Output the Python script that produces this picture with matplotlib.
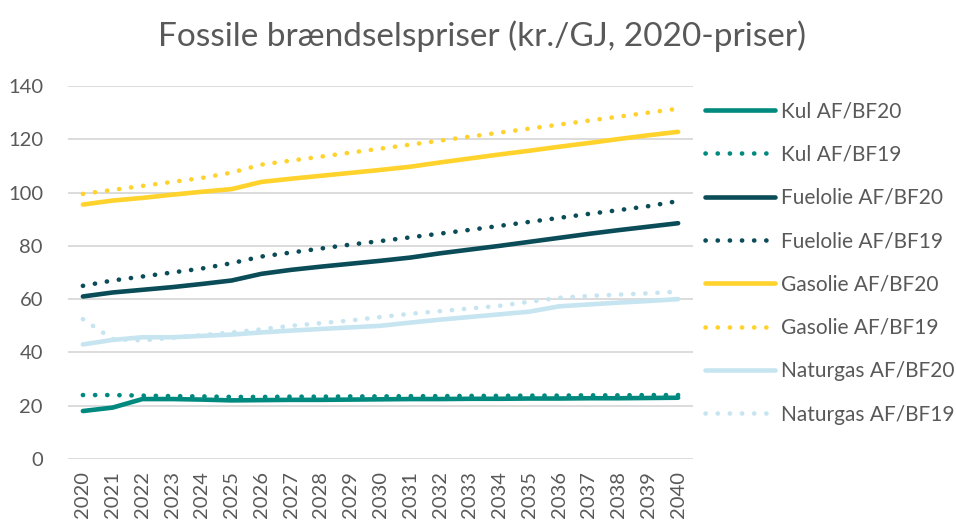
import matplotlib.pyplot as plt

# Fossile brændselspriser, kr./GJ (2020-priser)
years = list(range(2020, 2041))

kul_bf20 = [18.0, 19.3, 22.5, 22.5, 22.3, 22.0, 22.1, 22.2, 22.2, 22.3, 22.4, 22.5,
            22.5, 22.6, 22.6, 22.7, 22.7, 22.8, 22.8, 22.9, 23.0]
kul_bf19 = [24.0, 24.0, 23.8, 23.6, 23.5, 23.3, 23.3, 23.4, 23.4, 23.5, 23.5, 23.6,
            23.6, 23.7, 23.7, 23.8, 23.8, 23.9, 23.9, 24.0, 24.0]
fuel_bf20 = [61.0, 62.5, 63.5, 64.5, 65.7, 67.0, 69.5, 71.0, 72.2, 73.3, 74.4, 75.6,
             77.2, 78.6, 80.0, 81.5, 83.0, 84.5, 85.9, 87.2, 88.5]
fuel_bf19 = [65.0, 67.0, 68.5, 70.0, 71.5, 73.5, 76.0, 77.5, 79.0, 80.5, 81.8, 83.2,
             84.6, 86.0, 87.5, 89.0, 90.5, 92.0, 93.4, 94.9, 96.8]
gas_bf20 = [95.5, 97.0, 98.0, 99.2, 100.3, 101.3, 104.0, 105.2, 106.3, 107.4, 108.5, 109.7,
            111.3, 112.8, 114.3, 115.7, 117.2, 118.6, 120.1, 121.5, 122.8]
gas_bf19 = [99.5, 101.0, 102.5, 104.0, 105.5, 107.5, 110.5, 112.0, 113.5, 115.0, 116.5, 118.0,
            119.5, 121.0, 122.5, 124.0, 125.5, 127.0, 128.5, 130.0, 131.5]
ng_bf20 = [43.0, 44.7, 45.7, 45.7, 46.2, 46.7, 47.5, 48.2, 48.8, 49.4, 50.0, 51.2,
           52.3, 53.3, 54.3, 55.3, 57.3, 58.0, 58.7, 59.3, 60.0]
ng_bf19 = [52.5, 45.0, 44.5, 45.5, 46.5, 47.5, 48.7, 50.0, 51.0, 52.0, 53.3, 54.5,
           55.5, 56.5, 57.5, 59.0, 60.5, 61.2, 61.7, 62.2, 62.8]

labels = ["Kul AF/BF20", "Kul AF/BF19", "Fuelolie AF/BF20", "Fuelolie AF/BF19",
          "Gasolie AF/BF20", "Gasolie AF/BF19", "Naturgas AF/BF20", "Naturgas AF/BF19"]
series = [kul_bf20, kul_bf19, fuel_bf20, fuel_bf19, gas_bf20, gas_bf19, ng_bf20, ng_bf19]
colors = ["#00897f", "#00897f", "#0a4c57", "#0a4c57",
          "#ffd22c", "#ffd22c", "#c6e5f1", "#c6e5f1"]

plt.rcParams['font.family'] = ['Lato', 'DejaVu Sans']
text_col = "#595959"

fig = plt.figure(figsize=(9.56, 5.25), dpi=100)
ax = fig.add_axes([68 / 956, 1 - 459 / 525, 625 / 956, (459 - 86) / 525])

for i, (vals, lab, col) in enumerate(zip(series, labels, colors)):
    if i % 2 == 0:
        ax.plot(years, vals, color=col, lw=3.3, label=lab,
                solid_capstyle='round', solid_joinstyle='round')
    else:
        ax.plot(years, vals, color=col, lw=3.3, label=lab,
                linestyle=(0, (0.05, 2.6)), dash_capstyle='round')

ax.set_xlim(2019.5, 2040.5)
ax.set_ylim(0, 140)
ax.set_yticks(range(0, 141, 20))
ax.set_xticks(years)
ax.set_xticklabels([str(y) for y in years], rotation=90)
ax.grid(axis='y', color='#d9d9d9', lw=1.3)
ax.set_axisbelow(True)
for s in ax.spines.values():
    s.set_visible(False)
ax.tick_params(length=0, labelsize=14.5, colors=text_col)
ax.tick_params(axis='y', pad=18)
ax.tick_params(axis='x', pad=9)

fig.text(0.504, 0.932, "Fossile brændselspriser (kr./GJ, 2020-priser)",
         ha='center', va='center', fontsize=24, color=text_col)

leg = fig.legend(loc='upper left', bbox_to_anchor=(0.718, 0.843), frameon=False,
                 fontsize=15, handlelength=3.35, handletextpad=0.3, labelspacing=1.12)
for t in leg.get_texts():
    t.set_color(text_col)

fig.savefig("out.png", dpi=100)
